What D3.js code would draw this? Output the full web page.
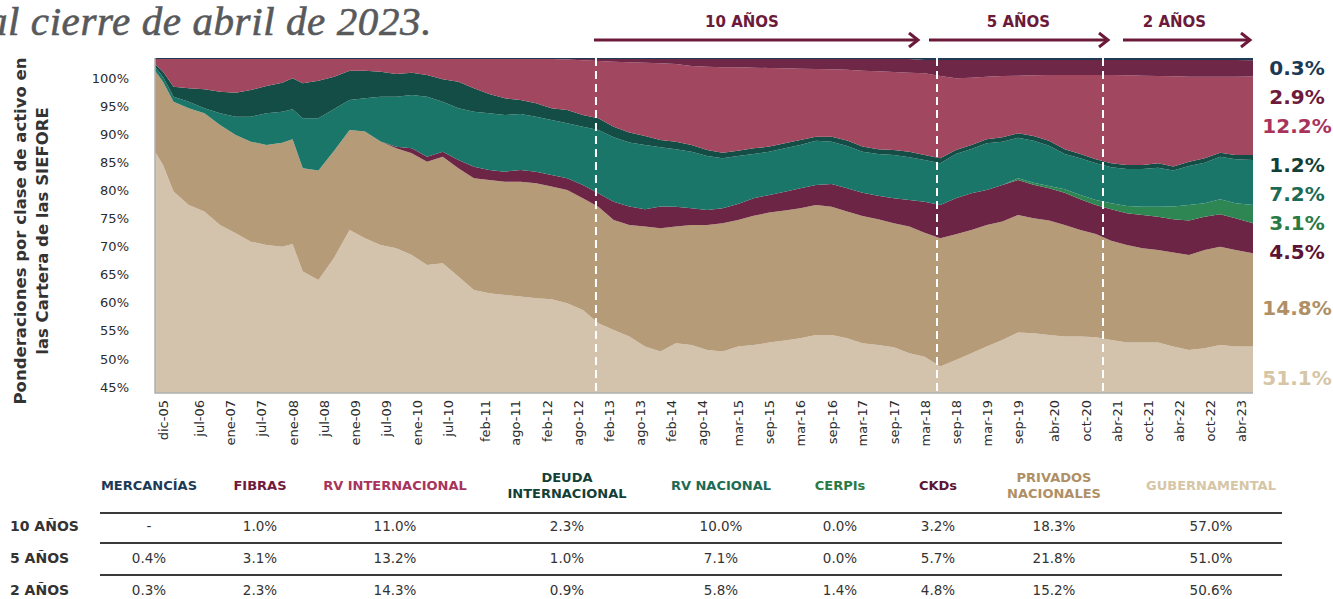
<!DOCTYPE html>
<html>
<head>
<meta charset="utf-8">
<script src="https://cdnjs.cloudflare.com/ajax/libs/d3/7.8.5/d3.min.js"></script>
<style>
  body { margin: 0; background: #fff; }
  svg { display: block; font-family: "DejaVu Sans", sans-serif; }
</style>
</head>
<body>
<div id="chart"></div>
<script>
// fechas de muestra (cada ~3 meses)
var dates = ["2005-10-15","2005-12-01","2006-02-01","2006-05-01","2006-08-01","2006-11-01",
  "2007-02-01","2007-05-01","2007-08-01","2007-11-01","2008-01-01","2008-03-01","2008-06-01",
  "2008-09-01","2008-12-01","2009-03-01","2009-06-01","2009-09-01","2009-12-01","2010-03-01",
  "2010-06-01","2010-09-01","2010-12-01","2011-03-01","2011-06-01","2011-09-01","2011-12-01",
  "2012-03-01","2012-06-01","2012-09-01","2012-12-01","2013-03-01","2013-06-01","2013-09-01",
  "2013-12-01","2014-03-01","2014-06-01","2014-09-01","2014-12-01","2015-03-01","2015-06-01",
  "2015-09-01","2015-12-01","2016-03-01","2016-06-01","2016-09-01","2016-12-01","2017-03-01",
  "2017-06-01","2017-09-01","2017-12-01","2018-03-01","2018-06-01","2018-09-01","2018-12-01",
  "2019-03-01","2019-06-01","2019-09-01","2019-12-01","2020-03-01","2020-06-01","2020-09-01",
  "2020-12-01","2021-03-01","2021-06-01","2021-09-01","2021-12-01","2022-03-01","2022-06-01",
  "2022-09-01","2022-12-01","2023-03-01","2023-06-12"];

// ponderaciones (%) por clase de activo
var gubernamental = [84.15,81.9,77.4,75.13,74.0,71.74,70.33,68.92,68.36,68.08,68.53,63.85,62.44,
  66.1,70.9,69.49,68.36,67.8,66.67,64.97,65.26,63.0,60.74,60.18,59.9,59.62,59.33,59.17,58.49,
  57.36,55.1,53.98,52.85,51.16,50.31,51.72,51.44,50.59,50.31,51.16,51.44,51.83,52.17,52.57,
  53.13,53.13,52.57,51.72,51.44,51.04,50.03,49.46,47.77,48.9,50.03,51.16,52.28,53.53,53.41,
  53.13,52.85,52.85,52.74,52.28,51.83,51.83,51.83,51.16,50.59,50.87,51.44,51.16,51.16];
var privados = [13.7,14.1,15.2,16.36,16.64,16.92,16.64,16.92,16.92,17.6,17.71,17.48,18.5,18.05,
  16.92,18.05,17.48,16.92,17.2,17.48,18.05,18.33,18.9,19.18,19.18,19.46,19.46,19.06,19.18,18.9,
  19.74,18.61,18.9,20.3,20.87,19.74,20.3,21.15,21.71,21.43,21.88,22.0,22.0,22.0,22.0,21.71,21.43,
  21.55,21.26,20.98,21.43,20.98,21.71,21.26,20.87,20.59,20.02,19.91,19.46,19.35,18.9,18.05,17.48,
  16.81,16.53,15.96,15.68,15.9,16.07,16.64,16.64,16.36,15.79];
var ckds = [0,0,0,0,0,0,0,0,0,0,0,0,0,0,0,0,0,0.28,0.85,0.85,0.85,1.41,1.97,1.69,1.69,1.97,1.97,
  1.97,1.97,2.26,2.26,3.1,3.1,2.93,3.67,3.38,2.82,2.54,2.54,2.71,2.93,2.99,3.21,3.38,3.38,3.84,
  3.95,3.95,4.0,4.23,4.51,5.25,5.64,6.09,6.2,5.92,6.2,5.92,5.7,5.47,5.47,5.19,4.91,5.3,5.36,5.64,
  5.64,5.64,5.81,5.64,5.47,5.36,5.08];
var cerpis = [0,0,0,0,0,0,0,0,0,0,0,0,0,0,0,0,0,0,0,0,0,0,0,0,0,0,0,0,0,0,0,0,0,0,0,0,0,0,0,0,
  0,0,0,0,0,0,0,0,0,0,0,0,0,0,0,0,0,0.28,0.34,0.39,0.56,0.73,0.85,1.02,1.24,1.41,1.69,2.14,2.65,
  2.26,2.54,2.54,3.1];
var rvNacional = [0.68,0.85,0.85,1.13,0.85,1.97,3.1,4.23,5.36,5.25,5.08,8.46,8.85,7.05,5.08,5.64,
  7.61,8.46,9.02,10.15,8.46,8.74,9.31,9.59,9.59,9.48,9.31,9.31,9.31,9.87,10.72,10.89,10.83,10.89,
  10.04,9.7,9.59,9.14,8.46,8.12,7.5,7.33,7.33,7.33,7.5,7.16,7.16,6.94,7.05,7.33,7.22,7.05,7.05,
  7.5,7.5,7.9,7.33,6.88,7.11,6.82,5.98,6.2,6.2,6.09,6.26,6.37,6.6,6.09,6.6,6.88,7.22,7.45,7.61];
var deudaInternacional = [0.45,0.85,1.69,2.26,3.21,3.67,4.06,4.51,4.62,4.91,5.25,5.92,6.37,5.47,
  4.96,4.68,4.23,3.84,3.78,3.67,3.78,4.51,3.95,3.27,2.82,2.37,2.26,1.97,2.26,1.97,1.97,1.8,1.69,
  1.52,1.24,1.3,1.13,1.02,0.96,0.9,0.96,0.85,0.85,0.85,0.68,0.85,0.9,0.85,0.79,0.85,0.96,0.85,
  0.85,0.68,0.68,0.68,0.73,0.73,0.79,0.85,0.79,0.73,0.68,0.68,0.68,0.68,0.73,0.68,0.73,0.73,0.68,
  0.73,0.85];
var rvInternacional = [0.85,2.14,4.68,4.96,5.13,5.53,5.7,5.25,4.57,4.0,3.27,4.12,3.67,2.99,1.97,
  1.97,2.14,2.54,2.31,2.71,3.44,3.84,4.96,5.92,6.66,6.94,7.5,8.35,8.53,9.28,9.7,11.0,11.9,12.41,
  12.97,13.14,13.37,14.1,14.44,14.1,13.65,13.31,12.69,12.07,11.45,11.39,12.01,12.86,13.2,13.2,
  13.37,13.82,13.93,12.13,11.39,10.6,10.38,9.76,10.27,11.11,12.58,13.37,14.27,14.95,15.17,15.12,
  14.78,15.28,14.38,13.82,12.86,13.25,13.25];
var fibras = [0,0,0,0,0,0,0,0,0,0,0,0,0,0,0,0,0,0,0,0,0,0,0,0,0,0,0,0,0.1,0.2,0.34,0.45,0.56,
  0.62,0.73,0.85,1.18,1.3,1.41,1.41,1.47,1.52,1.58,1.64,1.69,1.75,1.8,1.97,2.09,2.2,2.31,2.26,
  2.71,3.1,2.99,2.82,2.71,2.65,2.59,2.54,2.54,2.54,2.54,2.54,2.59,2.65,2.71,2.76,2.82,2.82,2.82,
  2.82,2.76];
var mercancias = [0.17,0.17,0.17,0.17,0.17,0.17,0.17,0.17,0.17,0.17,0.17,0.17,0.17,0.17,0.17,
  0.17,0.17,0.17,0.17,0.17,0.17,0.17,0.17,0.17,0.17,0.17,0.17,0.17,0.17,0.17,0.17,0.17,0.17,
  0.17,0.17,0.17,0.17,0.17,0.17,0.17,0.17,0.17,0.17,0.17,0.17,0.17,0.17,0.17,0.17,0.17,0.17,
  0.34,0.34,0.34,0.34,0.34,0.34,0.34,0.34,0.34,0.34,0.34,0.34,0.34,0.34,0.34,0.34,0.34,0.34,
  0.34,0.34,0.34,0.39];

// etiquetas del eje x y del eje y
var tickDates = ["2005-12-01","2006-07-01","2007-01-01","2007-07-01","2008-01-01","2008-07-01",
  "2009-01-01","2009-07-01","2010-01-01","2010-07-01","2011-02-01","2011-08-01","2012-02-01",
  "2012-08-01","2013-02-01","2013-08-01","2014-02-01","2014-08-01","2015-03-01","2015-09-01",
  "2016-03-01","2016-09-01","2017-03-01","2017-09-01","2018-03-01","2018-09-01","2019-03-01",
  "2019-09-01","2020-04-01","2020-10-01","2021-04-01","2021-10-01","2022-04-01","2022-10-01",
  "2023-04-01"];
var yTicks = [45, 50, 55, 60, 65, 70, 75, 80, 85, 90, 95, 100];

// cortes de 10, 5 y 2 años
var cutDates = ["2012-11-17", "2018-05-13", "2021-01-12"];
var periodNames = ["10 AÑOS", "5 AÑOS", "2 AÑOS"];

// ultimo dato (abr-23), de arriba hacia abajo
var lastLabels = ["0.3%", "2.9%", "12.2%", "1.2%", "7.2%", "3.1%", "4.5%", "14.8%", "51.1%"];

// tabla de promedios
var tableHeads = [["MERCANCÍAS"], ["FIBRAS"], ["RV INTERNACIONAL"], ["DEUDA", "INTERNACIONAL"],
  ["RV NACIONAL"], ["CERPIs"], ["CKDs"], ["PRIVADOS", "NACIONALES"], ["GUBERNAMENTAL"]];
var avg10 = ["-", "1.0%", "11.0%", "2.3%", "10.0%", "0.0%", "3.2%", "18.3%", "57.0%"];
var avg5 = ["0.4%", "3.1%", "13.2%", "1.0%", "7.1%", "0.0%", "5.7%", "21.8%", "51.0%"];
var avg2 = ["0.3%", "2.3%", "14.3%", "0.9%", "5.8%", "1.4%", "4.8%", "15.2%", "50.6%"];

var keys = ["gubernamental", "privados", "ckds", "cerpis", "rvNacional",
  "deudaInternacional", "rvInternacional", "fibras", "mercancias"];
var series = {gubernamental: gubernamental, privados: privados, ckds: ckds, cerpis: cerpis,
  rvNacional: rvNacional, deudaInternacional: deudaInternacional,
  rvInternacional: rvInternacional, fibras: fibras, mercancias: mercancias};
var areaColor = {gubernamental: "#d3c3ac", privados: "#b69b79", ckds: "#6d2545",
  cerpis: "#2e8652", rvNacional: "#1b766a", deudaInternacional: "#134d45",
  rvInternacional: "#a1475f", fibras: "#6e2747", mercancias: "#1f3b53"};
// colores de texto (tabla y etiquetas finales), mismo orden que tableHeads
var textColor = ["#1c3a55", "#6e1a3c", "#a8345c", "#133f36", "#1d6a55", "#2a7a45",
  "#5c1434", "#b08f65", "#d6c6a6"];

var parse = d3.timeParse("%Y-%m-%d");
var rows = dates.map(function(d, i) {
  var r = {date: parse(d)};
  keys.forEach(function(k) { r[k] = series[k][i]; });
  return r;
});

var es = d3.timeFormatLocale({
  dateTime: "%x, %X", date: "%d/%m/%Y", time: "%H:%M:%S", periods: ["AM", "PM"],
  days: ["domingo","lunes","martes","miércoles","jueves","viernes","sábado"],
  shortDays: ["dom","lun","mar","mié","jue","vie","sáb"],
  months: ["enero","febrero","marzo","abril","mayo","junio","julio","agosto","septiembre",
    "octubre","noviembre","diciembre"],
  shortMonths: ["ene","feb","mar","abr","may","jun","jul","ago","sep","oct","nov","dic"]
});

var plot = {left: 155, right: 1253, top: 58, bottom: 393};

var svg = d3.select("#chart").append("svg")
    .attr("width", 1333)
    .attr("height", 599);

var x = d3.scaleTime()
    .domain(d3.extent(rows, function(d) { return d.date; }))
    .range([plot.left, plot.right]);

// 100% apilado
var y = d3.scaleLinear()
    .domain([0.433, 1])
    .range([plot.bottom, plot.top]);

// las etiquetas del eje y no coinciden con el area en el original
var yLabel = d3.scaleLinear()
    .domain([45, 100])
    .range([387, 78]);

var stack = d3.stack()
    .keys(keys)
    .offset(d3.stackOffsetExpand);
var layers = stack(rows);

var area = d3.area()
    .x(function(d) { return x(d.data.date); })
    .y0(function(d) { return y(d[0]); })
    .y1(function(d) { return y(d[1]); });

svg.append("clipPath").attr("id", "clip")
  .append("rect")
    .attr("x", plot.left).attr("y", plot.top)
    .attr("width", plot.right - plot.left)
    .attr("height", plot.bottom - plot.top);

svg.append("g").attr("clip-path", "url(#clip)")
  .selectAll("path")
  .data(layers)
  .enter().append("path")
    .attr("d", area)
    .attr("fill", function(d) { return areaColor[d.key]; });

// marco gris izquierdo e inferior
svg.append("path")
    .attr("d", "M" + plot.left + "," + plot.top + "V" + plot.bottom + "H" + plot.right)
    .attr("fill", "none")
    .attr("stroke", "#b0b0b0")
    .attr("stroke-width", 1.5);

// lineas punteadas de los cortes
var cuts = cutDates.map(function(d) { return x(parse(d)); });
svg.selectAll(".cut")
  .data(cuts)
  .enter().append("line")
    .attr("class", "cut")
    .attr("x1", function(d) { return d; })
    .attr("x2", function(d) { return d; })
    .attr("y1", plot.top)
    .attr("y2", plot.bottom)
    .style("stroke", "#fff")
    .style("stroke-width", 2)
    .style("stroke-dasharray", ("8, 5"));

// flechas de periodos
var spans = [[cuts[0] - 2, cuts[1] - 19], [cuts[1] - 8, cuts[2] + 5], [cuts[2] + 20, plot.right - 3]];
var labelShift = [-14, 0, -12];
var arrowColor = "#6b1a3a";
spans.forEach(function(s, i) {
  svg.append("line")
    .attr("x1", s[0]).attr("y1", 40)
    .attr("x2", s[1] - 1).attr("y2", 40)
    .style("stroke", arrowColor)
    .style("stroke-width", 3);
  svg.append("path")
    .attr("d", "M" + (s[1] - 9) + ",33 L" + s[1] + ",40 L" + (s[1] - 9) + ",47")
    .attr("fill", "none")
    .attr("stroke", arrowColor)
    .attr("stroke-width", 3);
  svg.append("text")
    .attr("x", (s[0] + s[1]) / 2 + labelShift[i])
    .attr("y", 27)
    .attr("text-anchor", "middle")
    .style("font-size", "15px")
    .style("font-weight", "bold")
    .style("fill", arrowColor)
    .text(periodNames[i]);
});

// eje x
var xAxis = d3.axisBottom(x)
    .tickValues(tickDates.map(parse))
    .tickFormat(es.format("%b-%y"))
    .tickSize(0);

var gx = svg.append("g")
    .attr("transform", "translate(0," + plot.bottom + ")")
    .call(xAxis);
gx.select(".domain").remove();
gx.selectAll("text")
    .attr("transform", "rotate(-90)")
    .attr("x", -7)
    .attr("y", 0)
    .attr("dy", "0.35em")
    .style("text-anchor", "end")
    .style("font-size", "13px")
    .style("font-family", "DejaVu Sans")
    .style("fill", "#2b2b2b");

// eje y
var yAxis = d3.axisLeft(yLabel)
    .tickValues(yTicks)
    .tickFormat(function(d) { return d + "%"; })
    .tickSize(0)
    .tickPadding(0);
var gy = svg.append("g")
    .attr("transform", "translate(129,0)")
    .call(yAxis);
gy.select(".domain").remove();
gy.selectAll("text")
    .style("font-size", "13px")
    .style("font-family", "DejaVu Sans")
    .style("fill", "#2b2b2b");

var yTitle = svg.append("text")
    .attr("transform", "translate(0,231) rotate(-90)")
    .attr("text-anchor", "middle")
    .style("font-size", "16.5px")
    .style("font-weight", "bold")
    .style("fill", "#333");
yTitle.append("tspan").attr("x", 0).attr("y", 26).text("Ponderaciones por clase de activo en");
yTitle.append("tspan").attr("x", 0).attr("y", 48).text("las Cartera de las SIEFORE");

// titulo (cortado a la izquierda como en el original)
svg.append("text")
    .attr("x", 432)
    .attr("y", 35)
    .attr("text-anchor", "end")
    .style("font-family", "Liberation Serif, serif")
    .style("font-style", "italic")
    .style("font-size", "41px")
    .style("letter-spacing", "0.6px")
    .style("fill", "#58595b")
    .style("stroke", "#58595b")
    .style("stroke-width", 0.6)
    .text("al cierre de abril de 2023.");

// etiquetas del ultimo dato, separadas para que no se encimen
var last = layers.map(function(l) {
  var p = l[l.length - 1];
  var top = y(p[1]), bot = Math.min(y(p[0]), plot.bottom);
  return (top + bot) / 2;
}).reverse();
var placed = [];
last.forEach(function(c, i) {
  var v = c + 8;
  if (i === 0) v = Math.max(v, 68);
  else v = Math.max(v, placed[i - 1] + 29);
  placed.push(v);
});
svg.selectAll(".endlabel")
  .data(lastLabels)
  .enter().append("text")
    .attr("class", "endlabel")
    .attr("x", 1297)
    .attr("y", function(d, i) { return placed[i]; })
    .attr("dy", "0.35em")
    .attr("text-anchor", "middle")
    .style("font-size", "20px")
    .style("font-weight", "bold")
    .style("fill", function(d, i) { return textColor[i]; })
    .text(function(d) { return d; });

// tabla
var colX = [149, 260, 395, 567, 721, 840, 938, 1054, 1211];
tableHeads.forEach(function(h, i) {
  var t = svg.append("text")
    .attr("text-anchor", "middle")
    .style("font-size", "13px")
    .style("font-weight", "bold")
    .style("fill", textColor[i]);
  h.forEach(function(line, j) {
    t.append("tspan")
      .attr("x", colX[i])
      .attr("y", (h.length === 1 ? 485 : 477 + j * 16))
      .attr("dy", "0.35em")
      .text(line);
  });
});

var tableRows = [avg10, avg5, avg2];
var rowY = [526, 558, 590];
[513, 543, 575].forEach(function(ly) {
  svg.append("line")
    .attr("x1", 100).attr("x2", 1282)
    .attr("y1", ly).attr("y2", ly)
    .style("stroke", "#3a3a3a")
    .style("stroke-width", 2);
});
tableRows.forEach(function(r, i) {
  svg.append("text")
    .attr("x", 10)
    .attr("y", rowY[i])
    .attr("dy", "0.35em")
    .style("font-size", "14px")
    .style("font-weight", "bold")
    .style("fill", "#333")
    .text(periodNames[i]);
  r.forEach(function(v, j) {
    svg.append("text")
      .attr("x", colX[j])
      .attr("y", rowY[i])
      .attr("dy", "0.35em")
      .attr("text-anchor", "middle")
      .style("font-size", "13.5px")
      .style("fill", "#333")
      .text(v);
  });
});
</script>
</body>
</html>
